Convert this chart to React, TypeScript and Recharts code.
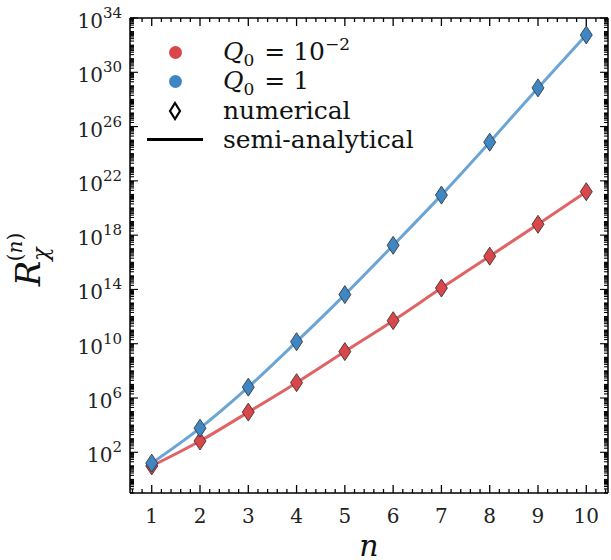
import { ComposedChart, Line, Scatter, XAxis, YAxis } from 'recharts';

const ns = [1, 2, 3, 4, 5, 6, 7, 8, 9, 10];
// log10 of R_chi^(n)
const smallQ0 = [0.99, 2.83, 4.96, 7.13, 9.42, 11.7, 14.1, 16.45, 18.8, 21.2];
const unitQ0 = [1.2, 3.78, 6.8, 10.15, 13.62, 17.25, 20.95, 24.85, 28.85, 32.75];

const xMajor = [1, 2, 3, 4, 5, 6, 7, 8, 9, 10];
const yMajor = [2, 6, 10, 14, 18, 22, 26, 30, 34];

const RED_LINE = '#e06366';
const BLUE_LINE = '#6aa5d5';
const RED_FILL = '#d9474a';
const BLUE_FILL = '#3f86c5';
const SERIF = '"DejaVu Serif", serif';

const data = ns.map((n, i) => ({ n, small: smallQ0[i], unit: unitQ0[i] }));

const xTicks: number[] = [];
for (let k = 3; k <= 52; k++) xTicks.push(+(k * 0.2).toFixed(1));

const yTicks: number[] = [];
for (let k = -1; k <= 34; k++) {
  yTicks.push(k);
  if (k < 34) for (let m = 2; m <= 9; m++) yTicks.push(k + Math.log10(m));
}

const isMajorX = (v: number) => xMajor.some((m) => Math.abs(m - v) < 1e-6);

const XTick = ({ x, y, payload, side }: any) => {
  const v = payload.value;
  const major = isMajorX(v);
  const len = major ? 8 : 4;
  const dir = side === 'top' ? 1 : -1;
  return (
    <g>
      <line x1={x} x2={x} y1={y} y2={y + dir * len} stroke="#000" strokeWidth={1.3} />
      {major && side !== 'top' && (
        <text x={x} y={y + 30} textAnchor="middle" fontFamily={SERIF} fontSize={20} fill="#222">
          {Math.round(v)}
        </text>
      )}
    </g>
  );
};

const YTick = ({ x, y, payload, side }: any) => {
  const v = payload.value;
  const major = yMajor.some((m) => Math.abs(m - v) < 1e-6);
  const len = major ? 8 : 4;
  const dir = side === 'right' ? -1 : 1;
  return (
    <g>
      <line x1={x} x2={x + dir * len} y1={y} y2={y} stroke="#000" strokeWidth={1.1} />
      {major && side !== 'right' && (
        <text x={x - 8} y={y + 10} textAnchor="end" fontFamily={SERIF} fontSize={20} fill="#222">
          10<tspan dy={-10} fontSize={15}>{Math.round(v)}</tspan>
        </text>
      )}
    </g>
  );
};

const Diamond = ({ cx, cy, fill }: any) => (
  <path
    d={`M${cx},${cy - 9} L${cx + 6},${cy} L${cx},${cy + 9} L${cx - 6},${cy} Z`}
    fill={fill}
    stroke="#333"
    strokeWidth={1}
    strokeOpacity={0.85}
  />
);

const YLabel = ({ viewBox }: any) => {
  const cx = 40;
  const cy = viewBox.y + viewBox.height / 2 + 4;
  return (
    <text transform={`translate(${cx},${cy}) rotate(-90)`} fontFamily={SERIF} fill="#111" textAnchor="middle">
      <tspan fontSize={34} fontStyle="italic">R</tspan>
      <tspan fontSize={22} fontStyle="italic" dy={8}>χ</tspan>
      <tspan fontSize={20} dx={-14} dy={-26}>(</tspan>
      <tspan fontSize={20} fontStyle="italic">n</tspan>
      <tspan fontSize={20}>)</tspan>
    </text>
  );
};

const XLabel = ({ viewBox }: any) => (
  <text
    x={viewBox.x + viewBox.width / 2}
    y={viewBox.y + 63}
    textAnchor="middle"
    fontFamily={SERIF}
    fontStyle="italic"
    fontSize={30}
    fill="#111"
  >
    n
  </text>
);

const subStyle = { fontSize: 17, position: 'relative' as const, top: 6, marginRight: 2 };
const supStyle = { fontSize: 17, position: 'relative' as const, top: -10 };

const legendRows = [
  { label: <>
      <i>Q</i><span style={subStyle}>0</span> = 10<span style={supStyle}>−2</span>
    </>, kind: 'dot', color: RED_FILL },
  { label: <>
      <i>Q</i><span style={subStyle}>0</span> = 1
    </>, kind: 'dot', color: BLUE_FILL },
  { label: 'numerical', kind: 'diamond', color: '#000' },
  { label: 'semi-analytical', kind: 'line', color: '#000' },
];

function ChartLegend() {
  return (
    <div style={{ position: 'absolute', left: 146, top: 38, fontFamily: SERIF, fontSize: 25, color: '#111' }}>
      {legendRows.map((r, i) => (
        <div key={i} style={{ display: 'flex', alignItems: 'center', height: 29, lineHeight: '29px' }}>
          <div style={{ width: 58, display: 'flex', justifyContent: 'center', alignItems: 'center' }}>
            {r.kind === 'dot' && (
              <div style={{ width: 13, height: 13, borderRadius: '50%', background: r.color }} />
            )}
            {r.kind === 'diamond' && (
              <svg width={14} height={20}>
                <path d="M7,2 L12,10 L7,18 L2,10 Z" fill="#fff" stroke="#000" strokeWidth={2.2} />
              </svg>
            )}
            {r.kind === 'line' && <div style={{ width: 56, height: 3, background: '#000' }} />}
          </div>
          <div style={{ marginLeft: 19, whiteSpace: 'nowrap' }}>{r.label}</div>
        </div>
      ))}
    </div>
  );
}

const axisCommon = {
  type: 'number' as const,
  allowDataOverflow: true,
  interval: 0 as const,
  tickSize: 0,
  tickMargin: 0,
  tickLine: false,
  axisLine: { stroke: '#000', strokeWidth: 1.5 },
};

export default function App() {
  return (
    <div style={{ position: 'absolute', left: 0, top: 0, width: 611, height: 560, background: '#fff' }}>
      <ComposedChart width={611} height={560} data={data} margin={{ top: 17, right: 2, bottom: 0, left: 0 }}>
        <XAxis
          {...axisCommon}
          xAxisId="b"
          dataKey="n"
          domain={[0.55, 10.45]}
          ticks={xTicks}
          height={67}
          tick={<XTick side="bottom" />}
          label={<XLabel />}
        />
        <XAxis
          {...axisCommon}
          xAxisId="t"
          dataKey="n"
          orientation="top"
          domain={[0.55, 10.45]}
          ticks={xTicks}
          height={1}
          tick={<XTick side="top" />}
        />
        <YAxis
          {...axisCommon}
          yAxisId="l"
          domain={[-1, 34]}
          ticks={yTicks}
          width={130}
          tick={<YTick side="left" />}
          label={<YLabel />}
        />
        <YAxis
          {...axisCommon}
          yAxisId="r"
          orientation="right"
          domain={[-1, 34]}
          ticks={yTicks}
          width={1}
          tick={<YTick side="right" />}
        />
        <Line xAxisId="b" yAxisId="l" type="monotone" dataKey="small" stroke={RED_LINE} strokeWidth={3} dot={false} isAnimationActive={false} />
        <Line xAxisId="t" yAxisId="r" type="monotone" dataKey="unit" stroke={BLUE_LINE} strokeWidth={3} dot={false} isAnimationActive={false} />
        <Scatter xAxisId="b" yAxisId="l" dataKey="small" fill={RED_FILL} shape={<Diamond fill={RED_FILL} />} isAnimationActive={false} />
        <Scatter xAxisId="t" yAxisId="r" dataKey="unit" fill={BLUE_FILL} shape={<Diamond fill={BLUE_FILL} />} isAnimationActive={false} />
      </ComposedChart>
      <ChartLegend />
    </div>
  );
}
